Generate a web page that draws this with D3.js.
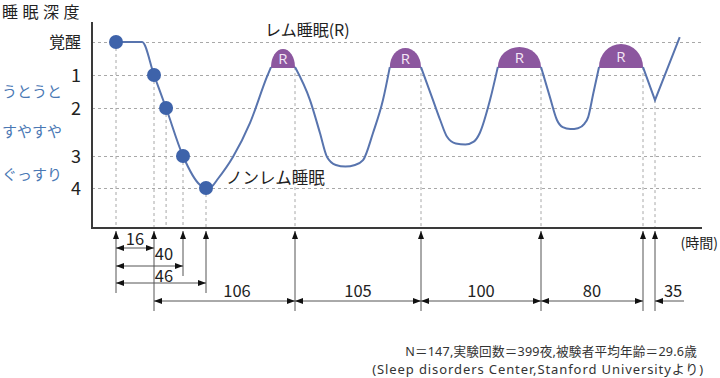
<!DOCTYPE html>
<html>
<head>
<meta charset="utf-8">
<script src="https://cdn.jsdelivr.net/npm/d3@7"></script>
<style>
  body { margin: 0; background: #fff; }
  text { font-family: "Noto Sans CJK JP", "Noto Sans", sans-serif; }
</style>
</head>
<body>
<script>
// ---- data (minutes after lights-out, sleep depth level 0=覚醒 .. 4) ----
let levels = [0, 1, 2, 3, 4];
let levelLabels = ["覚醒", "1", "2", "3", "4"];
let feelLabels = ["うとうと", "すやすや", "ぐっすり"];
let feelLevels = [1.5, 2.5, 3.6];

// schematic time axis: cumulative minutes at each marker
let markTimes = [0, 16, 40, 46, 122, 227, 327, 407, 442];
let spanFrom   = [0, 0, 0, 16, 122, 227, 327, 407];
let spanTo     = [16, 40, 46, 122, 227, 327, 407, 442];
let spanLabels = ["16", "40", "46", "106", "105", "100", "80", "35"];
let spanRow    = [0, 1, 2, 3, 3, 3, 3, 3];
let spanLabelAt = [8, 16.6, 16.6, 72.5, 174.5, 277, 367, 456.6];

// falling asleep, dots
let dots = [[0, 0], [16, 1], [26, 2], [40, 3], [46, 4]];

// non-REM stretches of the curve
let nrem0 = [[0, 0], [11, 0], [16, 1], [26, 2], [40, 3], [44.4, 3.9], [46, 4], [51, 3.95], [55.4, 3.75], [69, 3.03], [83.6, 2.31], [98, 1.06], [101.5, 0.76]];
let nrem1 = [[122, 0.76], [134.5, 1.76], [142.8, 2.52], [148.7, 3.03], [156, 3.28], [164, 3.33], [172, 3.28], [178.7, 3.13], [187, 2.52], [195.3, 1.76], [201, 0.76]];
let nrem2 = [[227, 0.76], [237, 1.76], [243, 2.25], [248.7, 2.6], [256, 2.74], [264, 2.76], [271, 2.7], [276, 2.52], [284.5, 1.76], [291, 0.76]];
let nrem3 = [[327, 0.76], [334, 1.67], [339.5, 2.25], [344, 2.4], [350, 2.44], [356, 2.42], [361, 2.33], [364, 2.19], [368, 1.56], [372.5, 0.76]];
let nrem4 = [[407, 0.76], [442, 1.76], [462, -0.15]];

// REM periods
let remStart = [101.5, 201, 291, 372.5];
let remEnd   = [122, 227, 327, 407];
let remTop   = [0.21, 0.18, 0.15, 0.06];
let remBase  = 0.76;

// dashed drop lines from the curve to the axis
let drops = [[0, 0], [16, 1], [26, 2], [40, 3], [46, 4], [122, 0.76], [227, 0.76], [327, 0.76], [407, 0.76], [442, 1.76]];

// ---- layout ----
let W = 720, H = 378;
let axisX = 92, axisY = 228, plotRight = 702, plotTop = 22;
let lineCol = "#5874ae", dotCol = "#3e63aa", remCol = "#8c579f", blueTxt = "#4a78b4", grid = "#a8a8a8";
let rowYs = [248, 266, 283, 301];
let labelDy = [-3, -6, -1, -4];   // baseline offset of span labels, per row

let svg = d3.select("body").append("svg").attr("width", W).attr("height", H);

// piecewise (schematic) scales
let x = d3.scaleLinear()
  .domain([-10, 0, 16, 40, 46, 122, 227, 327, 407, 442, 480])
  .range([axisX, 116, 154, 183, 206, 295, 421, 541, 643, 655, plotRight]);
let y = d3.scaleLinear()
  .domain([0, 1, 2, 3, 4])
  .range([42, 75, 108, 156, 188]);

let defs = svg.append("defs");
defs.append("marker").attr("id", "tri")
  .attr("viewBox", "0 0 8 6").attr("refX", 8).attr("refY", 3)
  .attr("markerWidth", 8).attr("markerHeight", 6)
  .attr("markerUnits", "userSpaceOnUse").attr("orient", "auto-start-reverse")
  .append("path").attr("d", "M0,0L8,3L0,6Z").attr("fill", "#111");

// grid (horizontal, dashed) via axis ticks
let gridG = svg.append("g").attr("transform", "translate(" + axisX + ",0)")
  .call(d3.axisRight(y).tickValues(levels).tickSize(plotRight - axisX).tickFormat(""));
gridG.select(".domain").remove();
gridG.selectAll("line").attr("stroke", grid).attr("stroke-dasharray", "3,3");

// drop lines
svg.append("g").selectAll("line").data(drops).enter().append("line")
  .attr("x1", d => x(d[0])).attr("x2", d => x(d[0]))
  .attr("y1", d => y(d[1])).attr("y2", axisY)
  .attr("stroke", grid).attr("stroke-dasharray", "3,3");

// y labels
let yAx = svg.append("g").attr("transform", "translate(" + axisX + ",0)")
  .call(d3.axisLeft(y).tickValues(levels).tickSize(0).tickPadding(11).tickFormat(i => levelLabels[i]));
yAx.select(".domain").remove();
yAx.selectAll("text").style("font-family", "'Noto Sans CJK JP'").attr("fill", "#222")
  .attr("font-size", (d, i) => i == 0 ? 16 : 18).attr("dy", "0.35em");

svg.selectAll(".feel").data(feelLabels).enter().append("text")
  .attr("class", "feel").attr("x", 2).attr("y", (d, i) => y(feelLevels[i]))
  .attr("dy", "0.35em").attr("font-size", 15).attr("fill", blueTxt).text(d => d);

// axes lines
svg.append("line").attr("x1", axisX).attr("x2", axisX).attr("y1", plotTop).attr("y2", axisY + 1)
  .attr("stroke", "#3a3a3a").attr("stroke-width", 2);
svg.append("line").attr("x1", axisX - 1).attr("x2", plotRight).attr("y1", axisY).attr("y2", axisY)
  .attr("stroke", "#3a3a3a").attr("stroke-width", 2);

svg.append("text").attr("x", 2).attr("y", 18).attr("font-size", 16)
  .attr("letter-spacing", 4.5).attr("fill", "#222").text("睡眠深度");

// REM domes
let remG = svg.append("g");
remStart.forEach(function(s, i) {
  let x0 = x(s), x1 = x(remEnd[i]), yb = y(remBase), yt = y(remTop[i]);
  let rx = (x1 - x0) / 2, ry = yb - yt;
  remG.append("path")
    .attr("d", "M" + x0 + "," + (yb + 1) + "L" + x0 + "," + yb + "A" + rx + "," + ry + " 0 0 1 " + x1 + "," + yb + "L" + x1 + "," + (yb + 1) + "Z")
    .attr("fill", remCol);
  remG.append("text").attr("x", (x0 + x1) / 2).attr("y", yb - ry * 0.45)
    .attr("dy", "0.35em").attr("text-anchor", "middle").attr("font-size", 15)
    .attr("fill", "#f3e6f5").style("font-family", "'Open Sans'").text("R");
});

// curve
let smooth = d3.line().x(d => x(d[0])).y(d => y(d[1])).curve(d3.curveMonotoneX);
let straight = d3.line().x(d => x(d[0])).y(d => y(d[1]));
[nrem0, nrem1, nrem2, nrem3].forEach(function(seg) {
  svg.append("path").attr("d", smooth(seg)).attr("fill", "none")
    .attr("stroke", lineCol).attr("stroke-width", 2);
});
svg.append("path").attr("d", straight(nrem4)).attr("fill", "none")
  .attr("stroke", lineCol).attr("stroke-width", 2);

svg.selectAll(".dot").data(dots).enter().append("circle").attr("class", "dot")
  .attr("cx", d => x(d[0])).attr("cy", d => y(d[1])).attr("r", 7).attr("fill", dotCol);

svg.append("text").attr("x", 265).attr("y", 36).attr("font-size", 16).attr("fill", "#222").text("レム睡眠(R)");
svg.append("text").attr("x", 226).attr("y", 184).attr("font-size", 16.5).attr("fill", "#222").text("ノンレム睡眠");

// time markers under the axis
let lowest = markTimes.map(t => {
  let rows = [];
  spanFrom.forEach((f, i) => { if (f == t || spanTo[i] == t) rows.push(spanRow[i]); });
  return d3.max(rows);
});
svg.append("g").selectAll("line").data(markTimes).enter().append("line")
  .attr("x1", d => x(d)).attr("x2", d => x(d))
  .attr("y1", (d, i) => rowYs[lowest[i]] + 10).attr("y2", axisY + 3)
  .attr("stroke", "#555").attr("stroke-width", 1)
  .attr("marker-end", "url(#tri)");

// dimension arrows
spanFrom.forEach(function(f, i) {
  let x0 = x(f), x1 = x(spanTo[i]), yy = rowYs[spanRow[i]];
  if (x1 - x0 < 20) {
    svg.append("line").attr("x1", x1 + 29).attr("x2", x1).attr("y1", yy).attr("y2", yy)
      .attr("stroke", "#555").attr("marker-end", "url(#tri)");
  } else {
    svg.append("line").attr("x1", x0).attr("x2", x1).attr("y1", yy).attr("y2", yy)
      .attr("stroke", "#555").attr("marker-start", "url(#tri)").attr("marker-end", "url(#tri)");
  }
  svg.append("text").attr("x", x(spanLabelAt[i])).attr("y", yy + labelDy[spanRow[i]])
    .attr("text-anchor", (spanRow[i] == 1 || spanRow[i] == 2) ? "start" : "middle")
    .attr("font-size", 16.5).attr("fill", "#222").text(spanLabels[i]);
});

svg.append("text").attr("x", 718).attr("y", 248).attr("text-anchor", "end")
  .attr("font-size", 14).attr("fill", "#222").text("(時間)");

svg.append("text").attr("x", 697).attr("y", 356).attr("text-anchor", "end")
  .style("font-family", "'Noto Sans', 'Noto Sans CJK JP'").attr("letter-spacing", 0.2)
  .attr("font-size", 12.6).attr("fill", "#333").text("N＝147,実験回数＝399夜,被験者平均年齢＝29.6歳");
svg.append("text").attr("x", 704).attr("y", 374).attr("text-anchor", "end")
  .style("font-family", "'Noto Sans', 'Noto Sans CJK JP'").attr("letter-spacing", 0.9)
  .attr("font-size", 13).attr("fill", "#333").text("(Sleep disorders Center,Stanford Universityより)");
</script>
</body>
</html>
